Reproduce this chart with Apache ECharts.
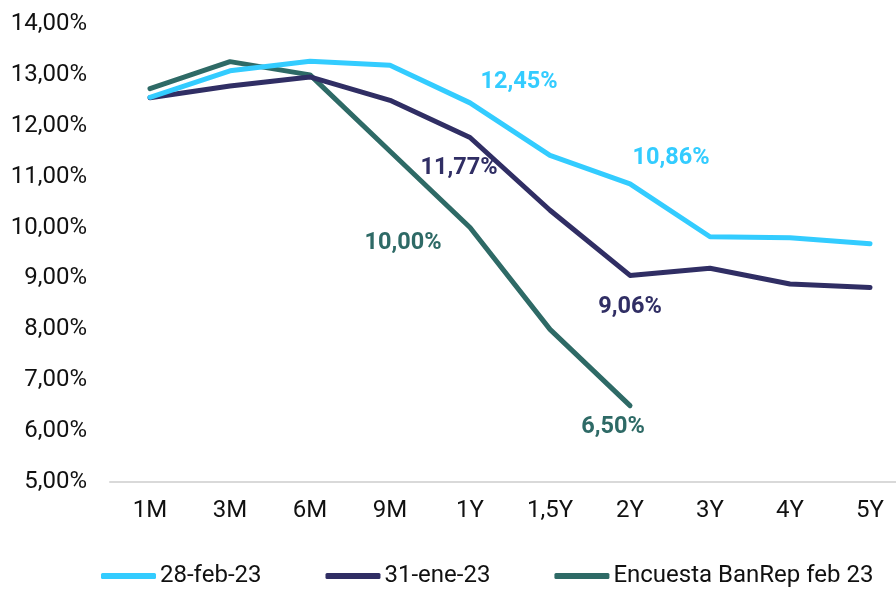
<!DOCTYPE html>
<html>
<head>
<meta charset="utf-8">
<script src="https://cdn.jsdelivr.net/npm/echarts@6/dist/echarts.min.js"></script>
<style>
	html, body { margin: 0; padding: 0; background: #fff; }
	#main { width: 896px; height: 589px; }
</style>
</head>
<body>
<div id="main"></div>
<script>
// datos de la curva
const plazos = ['1M', '3M', '6M', '9M', '1Y', '1,5Y', '2Y', '3Y', '4Y', '5Y']
const feb23 = [12.56, 13.08, 13.27, 13.19, 12.45, 11.42, 10.86, 9.82, 9.80, 9.68]
const ene23 = [12.55, 12.78, 12.96, 12.50, 11.77, 10.34, 9.06, 9.20, 8.89, 8.82]
const encuesta = [12.73, 13.26, 13.00, 11.50, 10.00, 8.00, 6.50, null, null, null]

const nombres = ['28-feb-23', '31-ene-23', 'Encuesta BanRep feb 23']
const colores = ['#33CCFF', '#302E64', '#2E6A66']

// etiquetas: índice del punto -> desplazamiento del texto
const etiquetas = [
	{ 4: [49, -21], 6: [41, -26] },
	{ 4: [-11, 31], 6: [0, 32] },
	{ 4: [-67, 16], 6: [-17, 21] }
]

const fmt = (v) => v.toFixed(2).replace('.', ',') + '%'

const buildData = (vals, idx) => vals.map((v, i) => {
	const off = etiquetas[idx][i]
	if (!off || v == null) return v
	return {
		value: v,
		label: {
			show: true,
			position: 'inside',
			offset: off,
			formatter: (p) => fmt(p.value),
			color: colores[idx],
			fontFamily: 'Roboto',
			fontWeight: 'bold',
			fontSize: 23.5
		}
	}
})

const serie = (vals, idx) => ({
	name: nombres[idx],
	type: 'line',
	data: buildData(vals, idx),
	symbol: 'circle',
	symbolSize: 0.1,
	showSymbol: true,
	connectNulls: false,
	lineStyle: { width: 5, color: colores[idx], cap: 'round', join: 'round' },
	itemStyle: { color: colores[idx] },
	emphasis: { disabled: true },
	z: 3 - idx
})

let myChart = echarts.init(document.getElementById('main'))
let option = {
	animation: false,
	textStyle: { fontFamily: 'Roboto' },
	grid: { left: 110, width: 800, top: 24, bottom: 107, containLabel: false, outerBoundsMode: 'none' },
	legend: {
		left: 101,
		bottom: 1,
		padding: 0,
		itemWidth: 55,
		itemHeight: 6,
		itemGap: 64,
		icon: 'roundRect',
		textStyle: { fontSize: 24, color: '#111', fontFamily: 'Roboto', padding: [0, 0, 0, -1] },
		data: nombres
	},
	xAxis: {
		type: 'category',
		data: plazos,
		boundaryGap: true,
		axisLine: { lineStyle: { color: '#D9D9D9', width: 2 } },
		axisTick: { show: false },
		axisLabel: { fontSize: 24, color: '#111', margin: 17, interval: 0 }
	},
	yAxis: {
		type: 'value',
		min: 5,
		max: 14,
		interval: 1,
		splitLine: { show: false },
		axisLine: { show: false },
		axisTick: { show: false },
		axisLabel: { fontSize: 24, color: '#111', margin: 23, formatter: (v) => fmt(v) }
	},
	series: [serie(feb23, 0), serie(ene23, 1), serie(encuesta, 2)]
}
myChart.setOption(option)
</script>
</body>
</html>
